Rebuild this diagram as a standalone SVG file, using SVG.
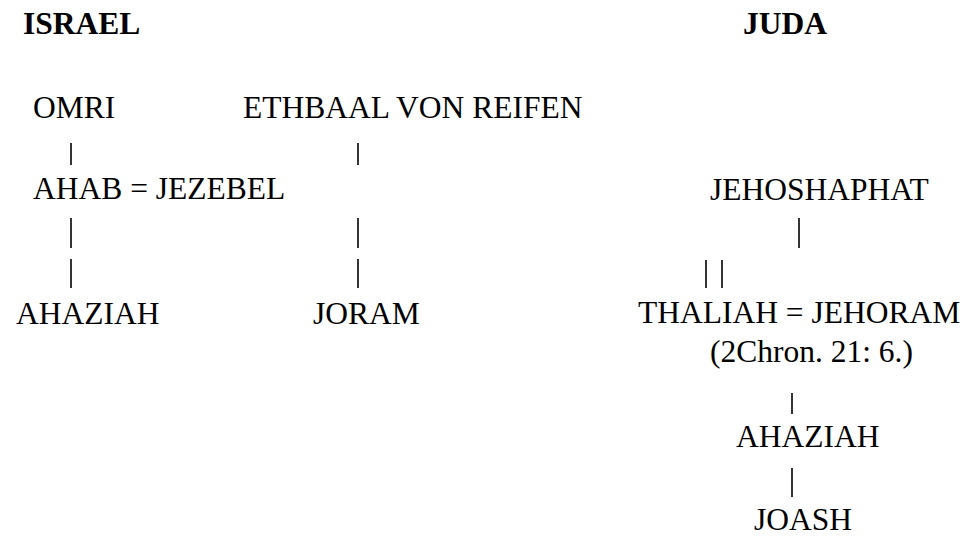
<svg xmlns="http://www.w3.org/2000/svg" width="967" height="536" viewBox="0 0 967 536">
<style>
  .t { font-family: 'Liberation Serif', 'Times New Roman', Times, 'DejaVu Serif', serif; font-size: 31.5px; fill: #000; }
  .head { font-weight: bold; }
  .bar { stroke: #111; stroke-width: 1.7; fill: none; }
</style>
<rect width="967" height="536" fill="#fff"/>
<g font-family="Liberation Serif, Times New Roman, serif">
<g id="heading-israel"><text class="t head" x="23" y="34">ISRAEL</text></g>
<g id="heading-juda"><text class="t head" x="743" y="34">JUDA</text></g>
<g id="omri"><text class="t" x="33" y="118">OMRI</text></g>
<g id="ethbaal"><text class="t" x="243" y="118">ETHBAAL VON REIFEN</text></g>
<g id="ahab-jezebel"><text class="t" x="33" y="199">AHAB = JEZEBEL</text></g>
<g id="ahaziah-israel"><text class="t" x="16" y="324">AHAZIAH</text></g>
<g id="joram"><text class="t" x="313" y="324">JORAM</text></g>
<g id="jehoshaphat"><text class="t" x="710" y="200">JEHOSHAPHAT</text></g>
<g id="thaliah-jehoram"><text class="t" x="638" y="323">THALIAH = JEHORAM</text></g>
<g id="chron-ref"><text class="t" x="710" y="362">(2Chron. 21: 6.)</text></g>
<g id="ahaziah-juda"><text class="t" x="736" y="447">AHAZIAH</text></g>
<g id="joash"><text class="t" x="754" y="530">JOASH</text></g>
</g>
<g id="connectors">
  <line class="bar" x1="71" y1="143" x2="71" y2="165"/>
  <line class="bar" x1="358" y1="143" x2="358" y2="165"/>
  <line class="bar" x1="71" y1="218" x2="71" y2="248"/>
  <line class="bar" x1="358" y1="218" x2="358" y2="248"/>
  <line class="bar" x1="71" y1="259" x2="71" y2="288"/>
  <line class="bar" x1="358" y1="259" x2="358" y2="288"/>
  <line class="bar" x1="799" y1="218" x2="799" y2="248"/>
  <line class="bar" x1="706" y1="260" x2="706" y2="288"/>
  <line class="bar" x1="722" y1="260" x2="722" y2="288"/>
  <line class="bar" x1="792" y1="393" x2="792" y2="414"/>
  <line class="bar" x1="792" y1="468" x2="792" y2="497"/>
</g>
</svg>
